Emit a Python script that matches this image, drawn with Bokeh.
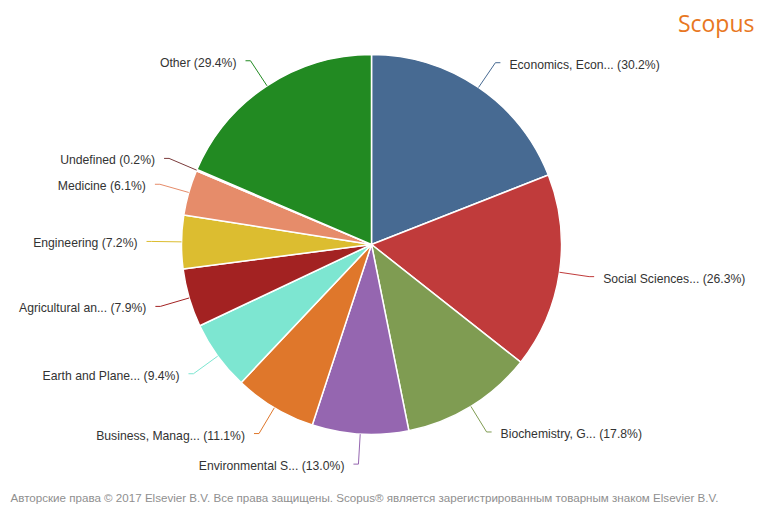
import math
from bokeh.plotting import figure
from bokeh.models import Range1d, ColumnDataSource
from bokeh.core.properties import value
from bokeh.embed import file_html
from bokeh.resources import INLINE

# ---- data ----
categories = ["Economics, Econ...", "Social Sciences...", "Biochemistry, G...",
              "Environmental S...", "Business, Manag...", "Earth and Plane...",
              "Agricultural an...", "Engineering", "Medicine", "Undefined", "Other"]
percents = [30.2, 26.3, 17.8, 13.0, 11.1, 9.4, 7.9, 7.2, 6.1, 0.2, 29.4]
colors = ["#476a92", "#c03b3b", "#7f9c52", "#9566b0", "#df772b", "#7de6d1",
          "#a32222", "#dcbd30", "#e68c6a", "#7b3b3b", "#228a22"]
footer = ("Авторские права © 2017 Elsevier B.V. Все права защищены. "
          "Scopus® является зарегистрированным товарным знаком Elsevier B.V.")
brand = "Scopus"

W, H = 761, 506
CX, CY, R = 371, 262, 190
EXT, HOR, GAP = 30, 5, 9

p = figure(width=W, height=H, x_range=Range1d(0, W), y_range=Range1d(0, H),
           x_axis_type=None, y_axis_type=None, output_backend="svg",
           toolbar_location=None, min_border=0)
p.grid.visible = False
p.outline_line_color = None
p.background_fill_color = "white"

total = sum(percents)
starts, ends, mids = [], [], []
cum = 0.0
for v in percents:
    a0 = math.pi / 2 - 2 * math.pi * cum / total
    cum += v
    a1 = math.pi / 2 - 2 * math.pi * cum / total
    starts.append(a0)
    ends.append(a1)
    mids.append((a0 + a1) / 2)

src = ColumnDataSource(dict(start=starts, end=ends, color=colors))
p.wedge(x=CX, y=CY, radius=R, start_angle="start", end_angle="end",
        direction="clock", fill_color="color", line_color="white",
        line_width=1.5, source=src)

L = dict(x=[], y=[], t=[])
Rt = dict(x=[], y=[], t=[])
for name, v, col, m in zip(categories, percents, colors, mids):
    ux, uy = math.cos(m), math.sin(m)
    x0, y0 = CX + R * ux, CY + R * uy
    x1, y1 = CX + (R + EXT) * ux, CY + (R + EXT) * uy
    side = 1 if ux >= 0 else -1
    x2 = x1 + side * HOR
    p.line([x0, x1, x2], [y0, y1, y1], line_color=col, line_width=1)
    d = Rt if side > 0 else L
    d["x"].append(x2 + side * GAP)
    d["y"].append(y1 - 2)
    d["t"].append(f"{name} ({v:.1f}%)")

common = dict(text_font=value("Liberation Sans"), text_font_size="12.2px",
              text_color="#333333", text_baseline="middle")
p.text(x="x", y="y", text="t", source=ColumnDataSource(Rt), text_align="left", **common)
p.text(x="x", y="y", text="t", source=ColumnDataSource(L), text_align="right", **common)

p.text(x=[754], y=[484], text=[brand], text_font=value("Open Sans"),
       text_font_size="23px", text_color="#e87722", text_align="right",
       text_baseline="alphabetic")

p.text(x=[10], y=[9], text=[footer], text_font=value("Liberation Sans"),
       text_font_size="11.6px", text_color="#8f8f8f", text_align="left",
       text_baseline="middle")

open("out.html", "w").write(file_html(p, INLINE))
